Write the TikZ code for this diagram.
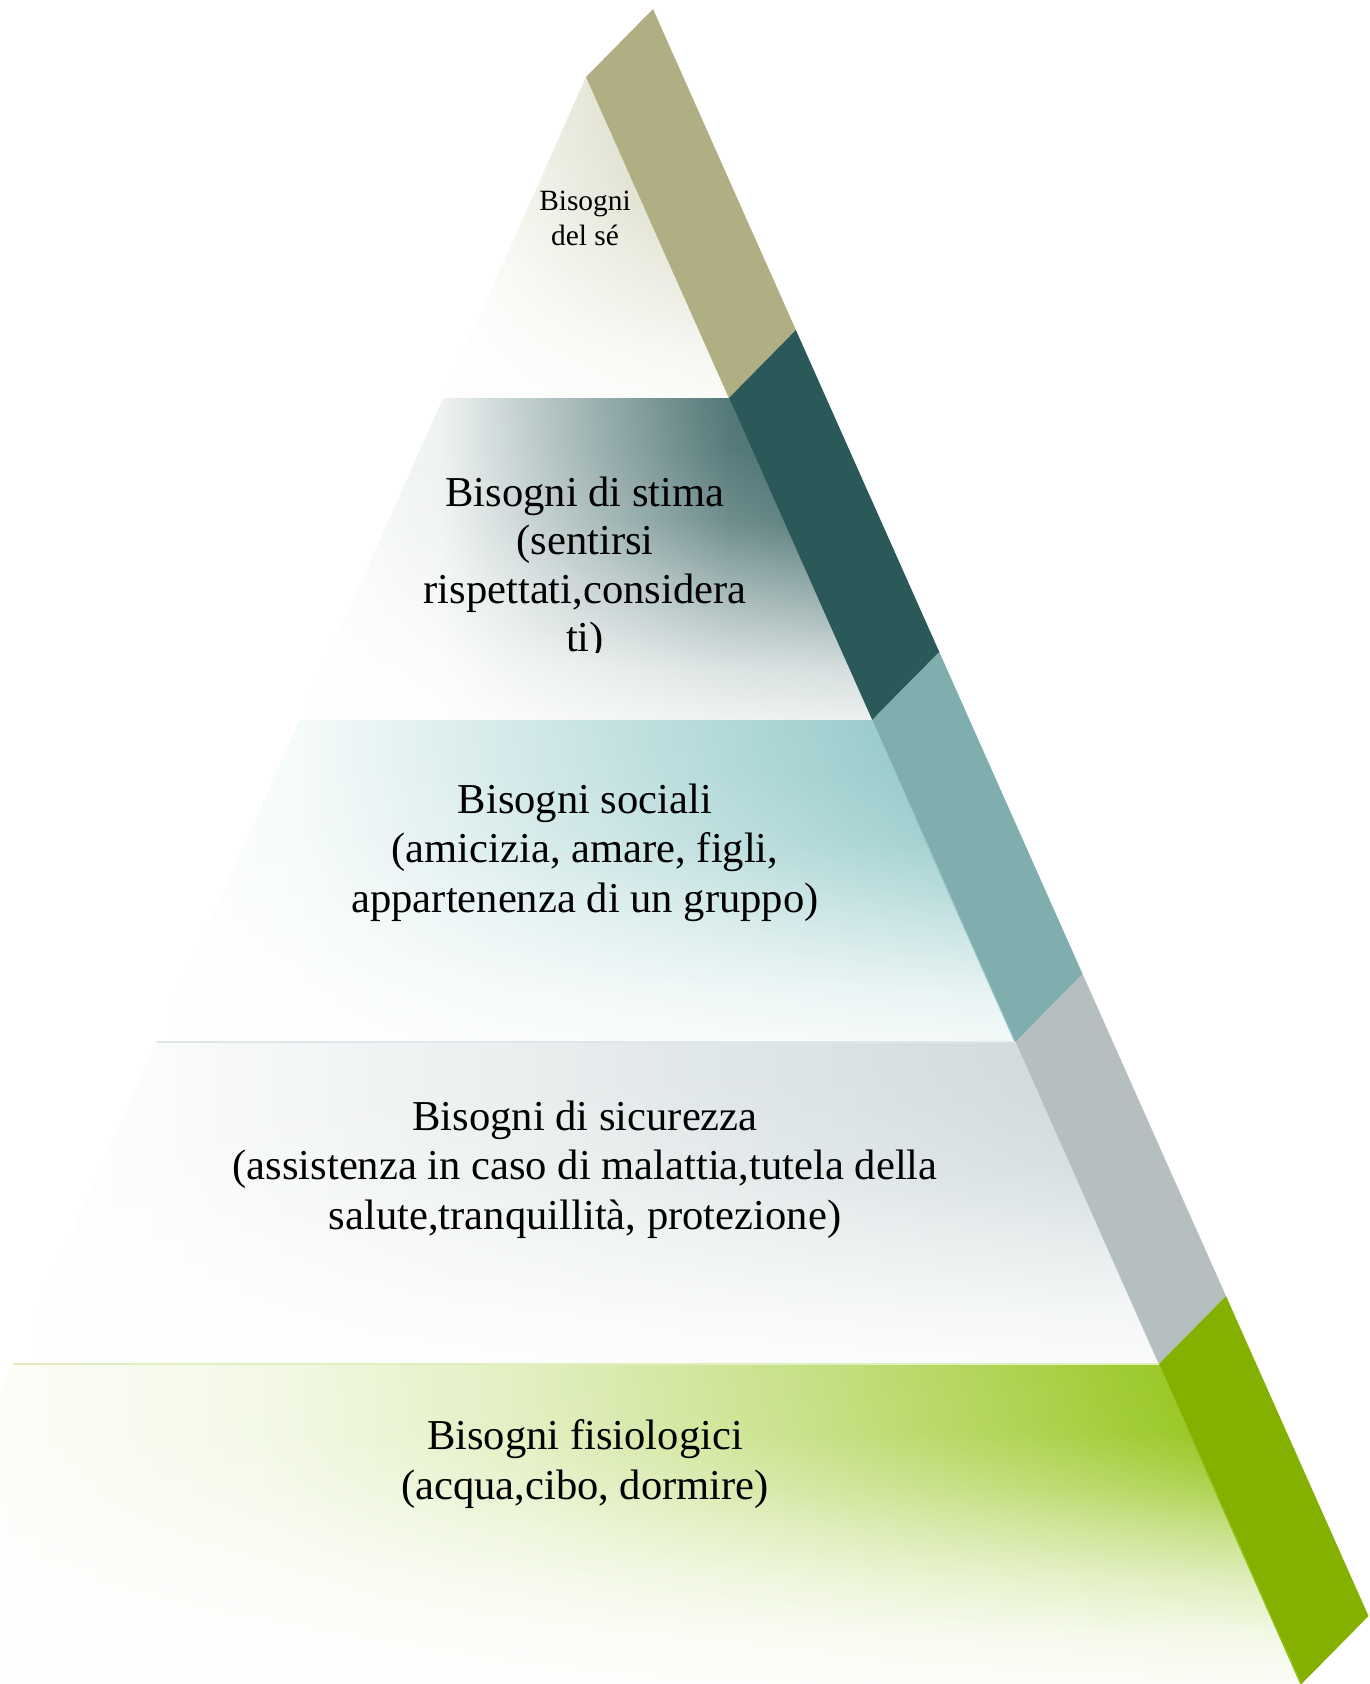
\documentclass[tikz,border=0pt]{standalone}
\usepackage{fontspec}
\setmainfont{Liberation Serif}
\usetikzlibrary{fadings}

% side band colours, top to bottom
\definecolor{bandSelf}{HTML}{B0AF84}
\definecolor{bandEsteem}{HTML}{2B5858}
\definecolor{bandSocial}{HTML}{80ADAD}
\definecolor{bandSafety}{HTML}{B6BFC0}
\definecolor{bandBody}{HTML}{84B000}
% full-strength tints of the front faces
\definecolor{faceSelf}{HTML}{A8A878}
\definecolor{faceEsteem}{HTML}{2B5858}
\definecolor{faceSocial}{HTML}{85C2C2}
\definecolor{faceSafety}{HTML}{C8D4D6}
\definecolor{faceBody}{HTML}{88BF00}

% horizontal tint of each face (25bp..75bp = left..right of the face's box)
\pgfdeclarehorizontalshading{selfH}{100bp}{color(0bp)=(white); color(25bp)=(white); color(75bp)=(faceSelf!55!white); color(100bp)=(faceSelf!55!white)}
\pgfdeclarehorizontalshading{esteemH}{100bp}{color(0bp)=(white); color(25bp)=(white); color(37.5bp)=(faceEsteem!8!white); color(62.5bp)=(faceEsteem!82!white); color(75bp)=(faceEsteem); color(100bp)=(faceEsteem)}
\pgfdeclarehorizontalshading{socialH}{100bp}{color(0bp)=(white); color(25bp)=(white); color(33.34bp)=(faceSocial!8!white); color(66.66bp)=(faceSocial!82!white); color(75bp)=(faceSocial); color(100bp)=(faceSocial)}
\pgfdeclarehorizontalshading{safetyH}{100bp}{color(0bp)=(white); color(25bp)=(white); color(31.26bp)=(faceSafety!8!white); color(68.74bp)=(faceSafety!82!white); color(75bp)=(faceSafety!94!white); color(100bp)=(faceSafety!94!white)}
\pgfdeclarehorizontalshading{bodyH}{100bp}{color(0bp)=(white); color(25bp)=(white); color(30bp)=(faceBody!3!white); color(38.8bp)=(faceBody!10!white); color(48bp)=(faceBody!25!white); color(57bp)=(faceBody!46!white); color(66bp)=(faceBody!72!white); color(70bp)=(faceBody!85!white); color(75bp)=(faceBody); color(100bp)=(faceBody)}

% white wash that grows towards the bottom of every face
\pgfdeclareverticalshading{washprofile}{100bp}{color(0bp)=(white); color(25bp)=(white!96!black); color(35bp)=(white!80!black); color(45bp)=(white!50!black); color(55bp)=(white!18!black); color(65bp)=(white!4!black); color(75bp)=(black); color(100bp)=(black)}
\pgfdeclareverticalshading{washfastprofile}{100bp}{color(0bp)=(white); color(25bp)=(white); color(35bp)=(white!90!black); color(42.5bp)=(white!72!black); color(50bp)=(white!46!black); color(55bp)=(white!26!black); color(62.5bp)=(white!5!black); color(75bp)=(black); color(100bp)=(black)}
\begin{tikzfadingfrompicture}[name=layerwash]
  \shade[shading=washprofile] (0,0) rectangle (2,2);
\end{tikzfadingfrompicture}
\begin{tikzfadingfrompicture}[name=layerwashfast]
  \shade[shading=washfastprofile] (0,0) rectangle (2,2);
\end{tikzfadingfrompicture}

% #1 tint, #2 wash, #3 outline of the face
\newcommand\pyrface[3]{%
  \shade[shading=#1] #3;
  \fill[white, path fading=#2] #3;}

\tikzset{
  lvltext/.style={align=center, inner sep=0pt, anchor=north, text=black,
    font=\fontsize{42.6}{#1}\selectfont},
  toptext/.style={align=center, inner sep=0pt, anchor=north, text=black,
    font=\fontsize{29.4}{35}\selectfont},
  edgeline/.style={line width=1.2pt}
}

\begin{document}
\begin{tikzpicture}[x=1pt,y=-1pt]
\useasboundingbox (0,0) rectangle (1370,1684);
\clip (0,0) rectangle (1370,1684);

% front face corners (L = left, R = right) and outer band corners (B)
\coordinate (R0) at (586,77);      \coordinate (B0) at (653,9);
\coordinate (L1) at (443.1,398);   \coordinate (R1) at (728.9,398);   \coordinate (B1) at (795.9,330);
\coordinate (L2) at (299.7,720);   \coordinate (R2) at (872.3,720);   \coordinate (B2) at (939.3,652);
\coordinate (L3) at (156.4,1042);  \coordinate (R3) at (1015.6,1042); \coordinate (B3) at (1082.6,974);
\coordinate (L4) at (13,1364);     \coordinate (R4) at (1159,1364);   \coordinate (B4) at (1226,1296);
\coordinate (L5) at (-129.5,1684); \coordinate (R5) at (1301.5,1684); \coordinate (B5) at (1368.5,1616);

% front faces
\pyrface{selfH}{layerwash}{(R0) -- (R1) -- (L1) -- cycle}
\pyrface{esteemH}{layerwash}{(L1) -- (R1) -- (R2) -- (L2) -- cycle}
\pyrface{socialH}{layerwash}{(L2) -- (R2) -- (R3) -- (L3) -- cycle}
\pyrface{safetyH}{layerwash}{(L3) -- (R3) -- (R4) -- (L4) -- cycle}
\pyrface{bodyH}{layerwashfast}{(L4) -- (R4) -- (R5) -- (L5) -- cycle}

% faint top edges of the two lowest faces
\draw[edgeline, faceSafety!55!white] (L3) -- (R3);
\draw[edgeline, faceBody!25!white] (L4) -- (R4);

% side band
\fill[bandSelf]   (R0) -- (B0) -- (B1) -- (R1) -- cycle;
\fill[bandEsteem] (R1) -- (B1) -- (B2) -- (R2) -- cycle;
\fill[bandSocial] (R2) -- (B2) -- (B3) -- (R3) -- cycle;
\fill[bandSafety] (R3) -- (B3) -- (B4) -- (R4) -- cycle;
\fill[bandBody]   (R4) -- (B4) -- (B5) -- (R5) -- cycle;

% labels
\node[toptext] (self) at (585,186) {\strut Bisogni\\del sé};
\begin{scope}
  \clip (0,0) rectangle (1370,652);
  \node[lvltext=48.5] (esteem) at (585,472) {\strut Bisogni di stima\\(sentirsi\\rispettati,considera\\ti)};
\end{scope}
\node[lvltext=49.5] (social) at (585,778.4) {\strut Bisogni sociali\\(amicizia, amare, figli,\\appartenenza di un gruppo)};
\node[lvltext=49.5] (safety) at (585,1095.5) {\strut Bisogni di sicurezza\\(assistenza in caso di malattia,tutela della\\salute,tranquillità, protezione)};
\node[lvltext=50] (body) at (585,1414) {\strut Bisogni fisiologici\\(acqua,cibo, dormire)};
\end{tikzpicture}
\end{document}
